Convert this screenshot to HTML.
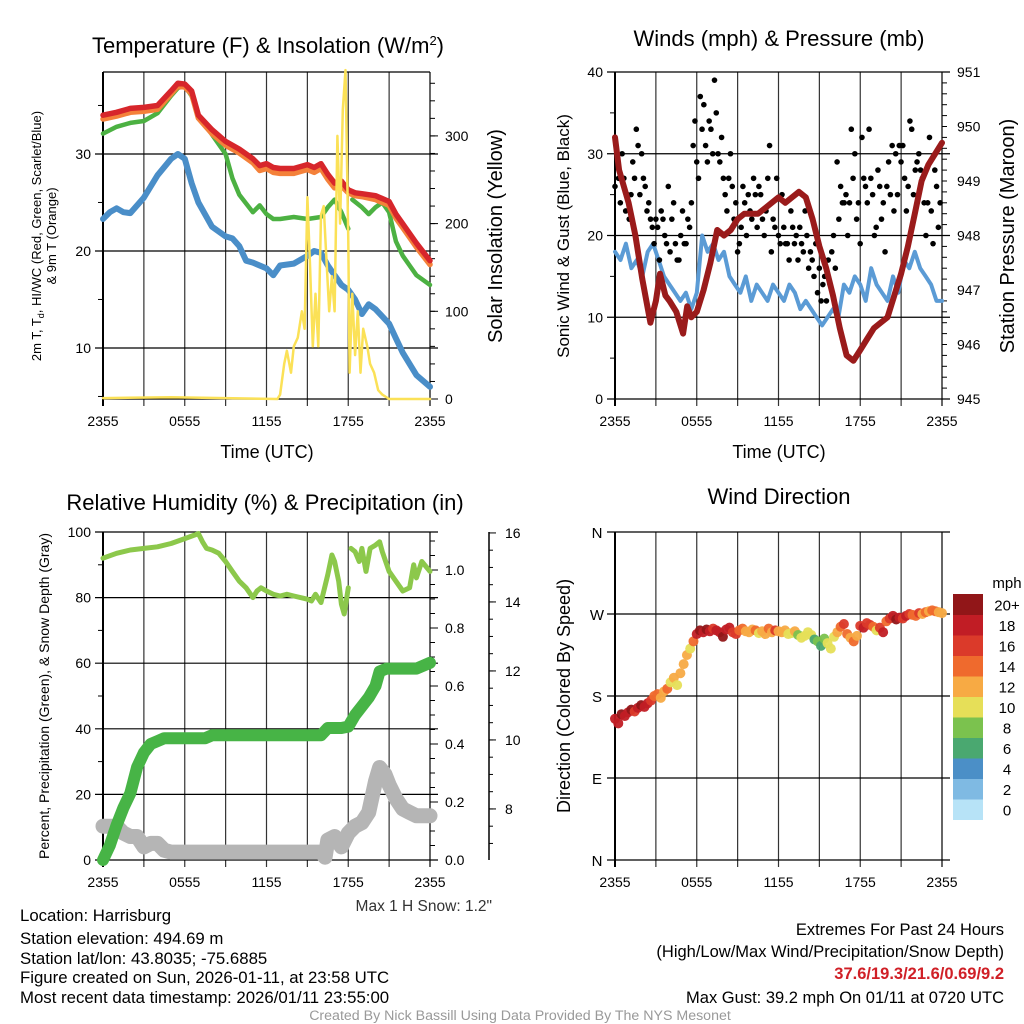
<!DOCTYPE html>
<html><head><meta charset="utf-8"><style>
html,body{margin:0;padding:0;background:#fff;}
svg{display:block;font-family:"Liberation Sans",sans-serif;}
</style></head><body>
<svg id="fig" width="1024" height="1024" viewBox="0 0 1024 1024" xmlns="http://www.w3.org/2000/svg">
<rect width="1024" height="1024" fill="#fff"/>
<g id="p1"></g>
<g id="p2"></g>
<g id="p3"></g>
<g id="p4"></g>
<g font-size="16.8" fill="#000">
<text x="20" y="921">Location: Harrisburg</text>
<text x="20" y="944">Station elevation: 494.69 m</text>
<text x="20" y="964">Station lat/lon: 43.8035; -75.6885</text>
<text x="20" y="983">Figure created on Sun, 2026-01-11, at 23:58 UTC</text>
<text x="20" y="1003">Most recent data timestamp: 2026/01/11 23:55:00</text>
</g>
<g font-size="16.5" text-anchor="end">
<text x="1004" y="935">Extremes For Past 24 Hours</text>
<text x="1004" y="957">(High/Low/Max Wind/Precipitation/Snow Depth)</text>
<text x="1004" y="979" fill="#d02027" font-weight="bold">37.6/19.3/21.6/0.69/9.2</text>
<text x="1004" y="1003">Max Gust: 39.2 mph On 01/11 at 0720 UTC</text>
<text x="492" y="911" font-size="15.5" fill="#333">Max 1 H Snow: 1.2"</text>
</g>
<text x="520" y="1020" font-size="14.2" fill="#999" text-anchor="middle">Created By Nick Bassill Using Data Provided By The NYS Mesonet</text>
</svg>
<script>
// ---------- data ----------
const timeTicks = ["2355","0555","1155","1755","2355"];
const tempTicks = [10,20,30];
const solarTicks = [0,100,200,300];
const windTicks = [0,10,20,30,40];
const presTicks = [945,946,947,948,949,950,951];
const rhTicks = [0,20,40,60,80,100];
const precipTicks = [0.0,0.2,0.4,0.6,0.8,1.0];
const snowTicks = [8,10,12,14,16];
const dirTicks = ["N","E","S","W","N"];
const dirTickVals = [0,90,180,270,360];
const speedLabels = ["0","2","4","6","8","10","12","14","16","18","20+"];
const speedColors = ["#b7e3f7","#7fbae3","#4b8fc7","#4aa870","#7bc24e","#e6df58","#f7aa44","#ef6a2d","#db3a2a","#c11d25","#911618"];

const redT = [0,1,2,3,4,5,5.5,6,6.5,7,8,9,10,11,11.5,12,12.5,13,14,15,15.5,16,16.5,17,17.5,18,18.5,19,20,21,21.5,22,23,24];
const redV = [34,34.3,34.7,34.8,35,36.5,37.3,37.2,36.5,34,32.5,31.3,30.5,29.5,28.8,29,28.6,28.5,28.5,28.9,28.6,29,27.9,27,27.2,26.3,26,25.9,25.7,25.1,23.8,22.8,20.8,19];
const orangeV = [33.6,33.9,34.3,34.4,34.6,36.2,37,36.9,36.2,33.7,32.1,30.9,30.1,29.1,28.3,28.5,28.1,28,28,28.4,28.1,28.5,27.4,26.5,26.7,26,25.7,25.6,25.3,24.7,23.4,22.4,20.4,18.6];
const greenT = [0,1,2,3,4,5,5.5,6,6.5,7,8,9,9.5,10,11,11.5,12,12.5,13,14,15,16,16.5,17,17.5,18,null,18.3,19,19.5,20,20.5,21,21.5,22,22.5,23,24];
const greenV = [32.1,32.8,33.2,33.4,34.2,36,36.8,37,36,34,32,30,27.5,25.8,24,24.7,23.8,23.3,23.3,23.5,23.3,23.5,24.5,25.3,24,22.3,null,25.3,24.5,23.8,24.5,25,24,21,19.5,18.5,17.5,16.5];
const blueT = [0,0.5,1,1.5,2,3,4,5,5.5,6,6.5,7,8,9,9.5,10,10.5,11,12,12.5,13,14,15,15.5,16,16.5,17,17.5,18,18.5,19,19.5,20,21,21.5,22,23,24];
const blueV = [23.3,24,24.4,24,23.9,25.5,27.8,29.5,30,29.5,27,25,22.5,21.5,21.3,20.5,19,18.8,18.2,17.5,18.5,18.7,19.5,20,19.8,18.5,17.5,16.5,16,15,13.5,14.5,14,12.5,11,9.5,7.2,6];
const solarT = [0,5,9,12.8,13,13.3,13.5,13.8,14,14.3,14.6,14.8,15,15.2,15.4,15.6,15.8,16,16.2,16.4,16.6,16.8,17,17.2,17.4,17.6,17.8,18,18.1,18.3,18.5,18.7,18.9,19.1,19.4,19.6,19.9,20.2,20.5,21,24];
const solarV = [1,2,1,0,5,40,55,30,60,70,100,80,230,150,60,120,60,210,220,160,100,140,100,300,200,330,375,180,30,120,50,100,30,80,60,40,30,10,5,0,0];

const presT = [0,0.3,1,1.5,2,2.6,3,3.3,3.7,4,4.5,5,5.3,5.6,6,6.5,7,7.5,8,8.5,9,9.5,10,10.5,11,11.5,12,12.5,13,13.5,14,14.5,15,15.5,16,16.5,17,17.5,18,18.5,19,19.5,20,20.5,21,21.5,22,22.5,23,24];
const presV = [949.8,949.2,948.6,948.0,947.2,946.4,946.8,947.3,946.9,946.8,946.6,946.2,946.7,946.5,946.6,947.0,947.5,948.1,948.0,948.1,948.3,948.4,948.4,948.4,948.5,948.6,948.7,948.6,948.7,948.8,948.7,948.3,947.8,947.4,946.9,946.3,945.8,945.7,945.9,946.1,946.3,946.4,946.5,946.9,947.3,947.8,948.4,949.0,949.3,949.7];
const sonicT = [0,0.4,0.8,1.2,1.6,2,2.4,2.8,3.2,3.6,4,4.4,4.8,5.2,5.6,6,6.4,6.8,7.2,7.6,8,8.4,8.8,9.2,9.6,10,10.4,10.8,11.2,11.6,12,12.4,12.8,13.2,13.6,14,14.4,14.8,15.2,15.6,16,16.4,16.8,17.2,17.6,18,18.4,18.8,19.2,19.6,20,20.4,20.8,21.2,21.6,22,22.4,22.8,23.2,23.6,24];
const sonicV = [18,17,19,16,17,15,18,19,17,15,14,13,12,13,11,13,20,18,19,17,18,15,14,13,15,12,14,13,12,14,13,12,14,13,11,12,11,10,9,10,11,10,14,13,15,14,12,16,14,13,12,15,13,17,16,18,16,15,14,12,12];
const gustStep = 0.1304;
const gustV = [26,29,27,24,30,27,23,25, 22,25,29,27,33,31,25,30, 27,26,23,24,22,21,19,22, 21,17,23,22,20,19,26,18, 22,24,19,17,17,20,23,19, 19,22,21,24,31,34,29,27, 37,33,36,31,29,34,33,30, 39,35,30,29,32,27,25,23, 27,30,26,22,24,18,19,21, 26,24,20,25,23,22,27,25, 21,26,25,22,20,23,27,31, 18,22,21,27,20,19,25,21, 19,19,17,23,21,19,20,17, 21,19,18,23,20,16,18,17, 15,19,13,16,12,14,15,12, 17,14,18,20,16,29,22,26, 24,24,25,20,24,33,27,30, 22,24,19,32,27,26,24,33, 27,25,20,21,28,26,22,24, 18,26,29,25,31,23,30,25, 31,29,31,27,23,26,34,33, 25,28,29,30,28,27,24,20, 24,32,23,19,28,26,21,24];

const rhT = [0,1,2,3,4,5,6,7,7.3,7.6,8,8.5,9,9.5,10,10.5,11,11.3,11.6,12,12.5,13,13.5,14,15,15.3,15.6,16,16.5,16.8,17,17.3,17.5,17.7,18,null,18.2,18.5,18.8,19,19.3,19.6,20,20.3,20.5,21,21.5,22,22.5,22.8,23,23.4,24];
const rhV = [92,93.5,94.5,95,95.5,96.5,98,99.5,97,95,94.5,93.5,91,88,85,83,80,82,83,82,81,80.5,81,80.5,79.5,79,81,78.5,87,93,91,85,78,75,83,null,95,94,91,95,88,95,96,97,94,88,85,82,83,90,86,91,88];
const precipT = [0,0.5,1,1.5,2,2.5,3,3.5,4,4.5,5,7.5,8,8.5,16,16.5,17.5,18,18.5,19,19.5,20,20.3,20.8,23,24];
const precipV = [0,0.05,0.12,0.18,0.23,0.32,0.37,0.4,0.41,0.42,0.42,0.42,0.43,0.43,0.43,0.455,0.455,0.46,0.5,0.53,0.56,0.6,0.65,0.66,0.66,0.68];
const snowT = [0,1,1.5,2,2.5,3,3.5,4,4.5,5,16,16.3,16.5,17,17.5,18,18.5,19,19.5,20,20.3,20.7,21,21.5,22,22.5,23,24];
const snowV = [7.5,7.5,7.3,7.2,7.2,6.9,7.0,7.0,6.8,6.75,6.75,6.6,7.1,7.2,6.9,7.3,7.5,7.6,7.9,8.8,9.2,9.0,8.7,8.3,8.0,7.9,7.8,7.8];

const dirStep = 0.24;
const dirV = [155,150,160,158,162,165,163,167,170,168,172, 175,180,182,178,185,188,195,200,192,205, 215,225,232,240,248,252,250,253,251,254, 252,250,245,253,255,250,248,252,254,251, 250,253,252,249,251,248,254,250,252,251, 250,252,248,249,251,247,244,246,250,247, 242,240,235,243,238,232,245,250,256,259, 248,244,240,246,257,255,260,258,256,252, 255,250,262,265,268,264,266,265,268,270, 269,268,271,270,272,273,274,273,272,271];
const speedV = [18,19,20,18,19,20,17,18,21,19,18, 17,15,14,13,12,14,11,13,10,12, 12,13,11,14,18,21,19,20,19,17, 19,18,20,19,18,16,17,15,14,13, 12,13,14,11,12,13,14,12,16,13, 12,13,11,10,12,9,11,10,11,10, 7,8,6,9,10,11,10,12,15,17, 14,12,15,13,17,18,16,17,15,11, 16,18,15,17,19,20,18,17,19,16, 15,14,16,13,14,12,15,14,13,12];

// ---------- helpers ----------
const NS = "http://www.w3.org/2000/svg";
function mk(parent, tag, attrs, name, inter) {
  const el = document.createElementNS(NS, tag);
  for (const k in attrs) el.setAttribute(k, attrs[k]);
  
  
  parent.appendChild(el);
  return el;
}
function txt(parent, x, y, s, size, anchor, name, extra) {
  const t = mk(parent, 'text', Object.assign({x:x, y:y, 'font-size':size, 'text-anchor':anchor||'middle'}, extra||{}), name, false);
  t.textContent = s;
  return t;
}
function pathFrom(ts, vs, xf, yf) {
  let d = "", pen = false;
  for (let i = 0; i < ts.length; i++) {
    if (ts[i] === null || vs[i] === null) { pen = false; continue; }
    d += (pen ? "L" : "M") + xf(ts[i]).toFixed(1) + "," + yf(vs[i]).toFixed(1);
    pen = true;
  }
  return d;
}
function frame(g, L, R, T, B) {
  for (let k = 0; k <= 8; k++) {
    const x = L + k * (R - L) / 8;
    mk(g, 'line', {x1:x, x2:x, y1:T, y2:B + 7, stroke: (k===0||k===8)?'#000':'#333', 'stroke-width': k===0?2:1.2}, 'x-grid-line', false);
  }
  for (let k = 0; k < timeTicks.length; k++) {
    txt(g, L + k * (R - L) / 4, B + 27, timeTicks[k], 14, 'middle', 'x-tick-label');
  }
}
function hline(g, L, R, y, name) { mk(g, 'line', {x1:L-8, x2:R+8, y1:y, y2:y, stroke:'#000', 'stroke-width':1.2}, name, false); }

// ---------- panel 1 ----------
(function(){
  const g = document.getElementById('p1');
  const L=103,R=430,T=72,B=399;
  const x = h => L + h*(R-L)/24;
  const yT = v => T + (38.45 - v)*9.7;
  const yS = v => B - v*0.877;
  txt(g, 268, 53, "Temperature (F) & Insolation (W/m", 22, 'middle', 'panel-title').innerHTML = 'Temperature (F) &amp; Insolation (W/m<tspan dy="-8" font-size="13">2</tspan><tspan dy="8">)</tspan>';
  frame(g,L,R,T,B);
  mk(g,'line',{x1:L,x2:R,y1:T,y2:T,stroke:'#000','stroke-width':1.2},'top-border',false);
  mk(g,'line',{x1:L,x2:R,y1:B,y2:B,stroke:'#000','stroke-width':1.2},'bottom-border',false);
  tempTicks.forEach(v=>{ hline(g,L,R,yT(v),'temp-gridline'); txt(g,L-12,yT(v)+5,String(v),14,'end','temp-tick-label'); });
  for (let v=5; v<=38; v+=5) if (v%10) mk(g,'line',{x1:L-5,x2:L,y1:yT(v),y2:yT(v),stroke:'#000'},'temp-minor-tick',false);
  solarTicks.forEach(v=>{ mk(g,'line',{x1:R,x2:R+8,y1:yS(v),y2:yS(v),stroke:'#000'},'solar-tick',false); txt(g,R+15,yS(v)+5,String(v),14,'start','solar-tick-label'); });
  for (let v=20; v<=360; v+=20) mk(g,'line',{x1:R,x2:R+5,y1:yS(v),y2:yS(v),stroke:'#000'},'solar-minor-tick',false);
  const st = {fill:'none','stroke-linejoin':'round','stroke-linecap':'round'};
  mk(g,'path',Object.assign({d:pathFrom(blueT,blueV,x,yT),stroke:'#4a8ec8','stroke-width':6},st),'dewpoint-line',false);
  mk(g,'path',Object.assign({d:pathFrom(greenT,greenV,x,yT),stroke:'#4cb142','stroke-width':4.5},st),'windchill-line',false);
  mk(g,'path',Object.assign({d:pathFrom(redT,orangeV,x,yT),stroke:'#f4813a','stroke-width':5.5},st),'temp-9m-line',false);
  mk(g,'path',Object.assign({d:pathFrom(redT,redV,x,yT),stroke:'#d7262b','stroke-width':5.5},st),'temp-2m-line',false);
  mk(g,'path',Object.assign({d:pathFrom(solarT,solarV,x,yS),stroke:'#fbe157','stroke-width':2.5},st),'solar-line',false);
  txt(g,267,458,"Time (UTC)",18,'middle','x-axis-title');
  txt(g,0,0,"2m T, T",13,'middle','y-axis-title-left',{transform:'translate(41,236) rotate(-90)'}).innerHTML='2m T, T<tspan dy="3" font-size="9">d</tspan><tspan dy="-3">, HI/WC (Red, Green, Scarlet/Blue)</tspan>';
  txt(g,0,0,"& 9m T (Orange)",13,'middle','y-axis-title-left-2',{transform:'translate(56,236) rotate(-90)'});
  txt(g,0,0,"Solar Insolation (Yellow)",20,'middle','y-axis-title-right',{transform:'translate(502,236) rotate(-90)'});
})();

// ---------- panel 2 ----------
(function(){
  const g = document.getElementById('p2');
  const L=615,R=942,T=72,B=399;
  const x = h => L + h*(R-L)/24;
  const yW = v => B - v*(B-T)/40;
  const yP = v => B - (v-945)*(B-T)/6;
  txt(g,779,46,"Winds (mph) & Pressure (mb)",22,'middle','panel-title');
  frame(g,L,R,T,B);
  windTicks.forEach(v=>{ hline(g,L,R,yW(v),'wind-gridline'); txt(g,L-12,yW(v)+5,String(v),14,'end','wind-tick-label'); });
  for (let v=5; v<40; v+=10) mk(g,'line',{x1:L-5,x2:L,y1:yW(v),y2:yW(v),stroke:'#000'},'wind-minor-tick',false);
  presTicks.forEach(v=>{ txt(g,R+15,yP(v)+5,String(v),14,'start','pressure-tick-label'); });
  for (let v=945; v<=951.001; v+=0.2) mk(g,'line',{x1:R,x2:R+5,y1:yP(v),y2:yP(v),stroke:'#000'},'pressure-minor-tick',false);
  const st = {fill:'none','stroke-linejoin':'round','stroke-linecap':'round'};
  mk(g,'path',Object.assign({d:pathFrom(sonicT,sonicV,x,yW),stroke:'#5b9bd5','stroke-width':4},st),'sonic-wind-line',false);
  gustV.forEach((v,i)=>{
    mk(g,'circle',{cx:x(i*gustStep),cy:yW(v),r:2.8,fill:'#000'},'gust-point',false);
  });
  mk(g,'path',Object.assign({d:pathFrom(presT,presV,x,yP),stroke:'#9a1b1b','stroke-width':6},st),'pressure-line',false);
  txt(g,779,458,"Time (UTC)",18,'middle','x-axis-title');
  txt(g,0,0,"Sonic Wind & Gust (Blue, Black)",17,'middle','y-axis-title-left',{transform:'translate(569,236) rotate(-90)'});
  txt(g,0,0,"Station Pressure (Maroon)",20,'middle','y-axis-title-right',{transform:'translate(1014,236) rotate(-90)'});
})();

// ---------- panel 3 ----------
(function(){
  const g = document.getElementById('p3');
  const L=103,R=430,T=532,B=860;
  const x = h => L + h*(R-L)/24;
  const yR = v => B - v*(B-T)/100;
  const yPr = v => B - v*290;
  const ySn = v => B - (v-6.52)*34.5;
  txt(g,265,510,"Relative Humidity (%) & Precipitation (in)",22,'middle','panel-title');
  frame(g,L,R,T,B);
  rhTicks.forEach(v=>{ hline(g,L,R,yR(v),'rh-gridline'); txt(g,L-12,yR(v)+5,String(v),14,'end','rh-tick-label'); });
  for (let v=10; v<100; v+=20) mk(g,'line',{x1:L-5,x2:L,y1:yR(v),y2:yR(v),stroke:'#000'},'rh-minor-tick',false);
  precipTicks.forEach(v=>{ mk(g,'line',{x1:R,x2:R+8,y1:yPr(v),y2:yPr(v),stroke:'#000'},'precip-tick',false); txt(g,R+15,yPr(v)+5,v.toFixed(1),14,'start','precip-tick-label'); });
  for (let v=0.05; v<1.13; v+=0.05) mk(g,'line',{x1:R,x2:R+5,y1:yPr(v),y2:yPr(v),stroke:'#000'},'precip-minor-tick',false);
  mk(g,'line',{x1:489,x2:489,y1:T,y2:B,stroke:'#000','stroke-width':1.5},'snow-axis-line',false);
  snowTicks.forEach(v=>{ mk(g,'line',{x1:489,x2:496,y1:ySn(v),y2:ySn(v),stroke:'#000'},'snow-tick',false); txt(g,505,ySn(v)+5,String(v),14,'start','snow-tick-label'); });
  for (let v=7; v<16; v+=0.5) mk(g,'line',{x1:489,x2:493,y1:ySn(v),y2:ySn(v),stroke:'#000'},'snow-minor-tick',false);
  const st = {fill:'none','stroke-linejoin':'round','stroke-linecap':'round'};
  mk(g,'path',Object.assign({d:pathFrom(snowT,snowV,x,ySn),stroke:'#b5b5b5','stroke-width':15},st),'snow-depth-line',false);
  mk(g,'path',Object.assign({d:pathFrom(precipT,precipV,x,yPr),stroke:'#47b446','stroke-width':12},st),'precip-line',false);
  mk(g,'path',Object.assign({d:pathFrom(rhT,rhV,x,yR),stroke:'#8cc84b','stroke-width':5},st),'rh-line',false);
  txt(g,0,0,"Percent, Precipitation (Green), & Snow Depth (Gray)",14,'middle','y-axis-title-left',{transform:'translate(49,696) rotate(-90)'});
})();

// ---------- panel 4 ----------
(function(){
  const g = document.getElementById('p4');
  const L=615,R=942,T=532,B=860;
  const x = h => L + h*(R-L)/24;
  const yD = v => B - v*(B-T)/360;
  txt(g,779,504,"Wind Direction",22,'middle','panel-title');
  frame(g,L,R,T,B);
  dirTickVals.forEach((v,i)=>{ hline(g,L,R,yD(v),'dir-gridline'); txt(g,L-18,yD(v)+6,dirTicks[i],15,'middle','dir-tick-label'); });
  dirV.forEach((v,i)=>{
    const k = Math.min(10, Math.floor(speedV[i]/2));
    mk(g,'circle',{cx:x(i*dirStep),cy:yD(v),r:5,fill:speedColors[k],'fill-opacity':0.95},'direction-point',false);
  });
  txt(g,0,0,"Direction (Colored By Speed)",18,'middle','y-axis-title-left',{transform:'translate(570,696) rotate(-90)'});
  const cb = mk(g,'g',{},'speed-colorbar',false);
  const cbT=594, cbH=20.5;
  for (let k=0;k<11;k++){
    const y = cbT + (10-k)*cbH;
    mk(cb,'rect',{x:953,y:y,width:30,height:cbH+0.5,fill:speedColors[k]},'colorbar-swatch',false);
    txt(cb,1007,y+cbH/2+6,speedLabels[k],15,'middle','colorbar-label');
  }
  txt(cb,1007,588,"mph",15,'middle','colorbar-title');
})();
</script>
</body></html>
